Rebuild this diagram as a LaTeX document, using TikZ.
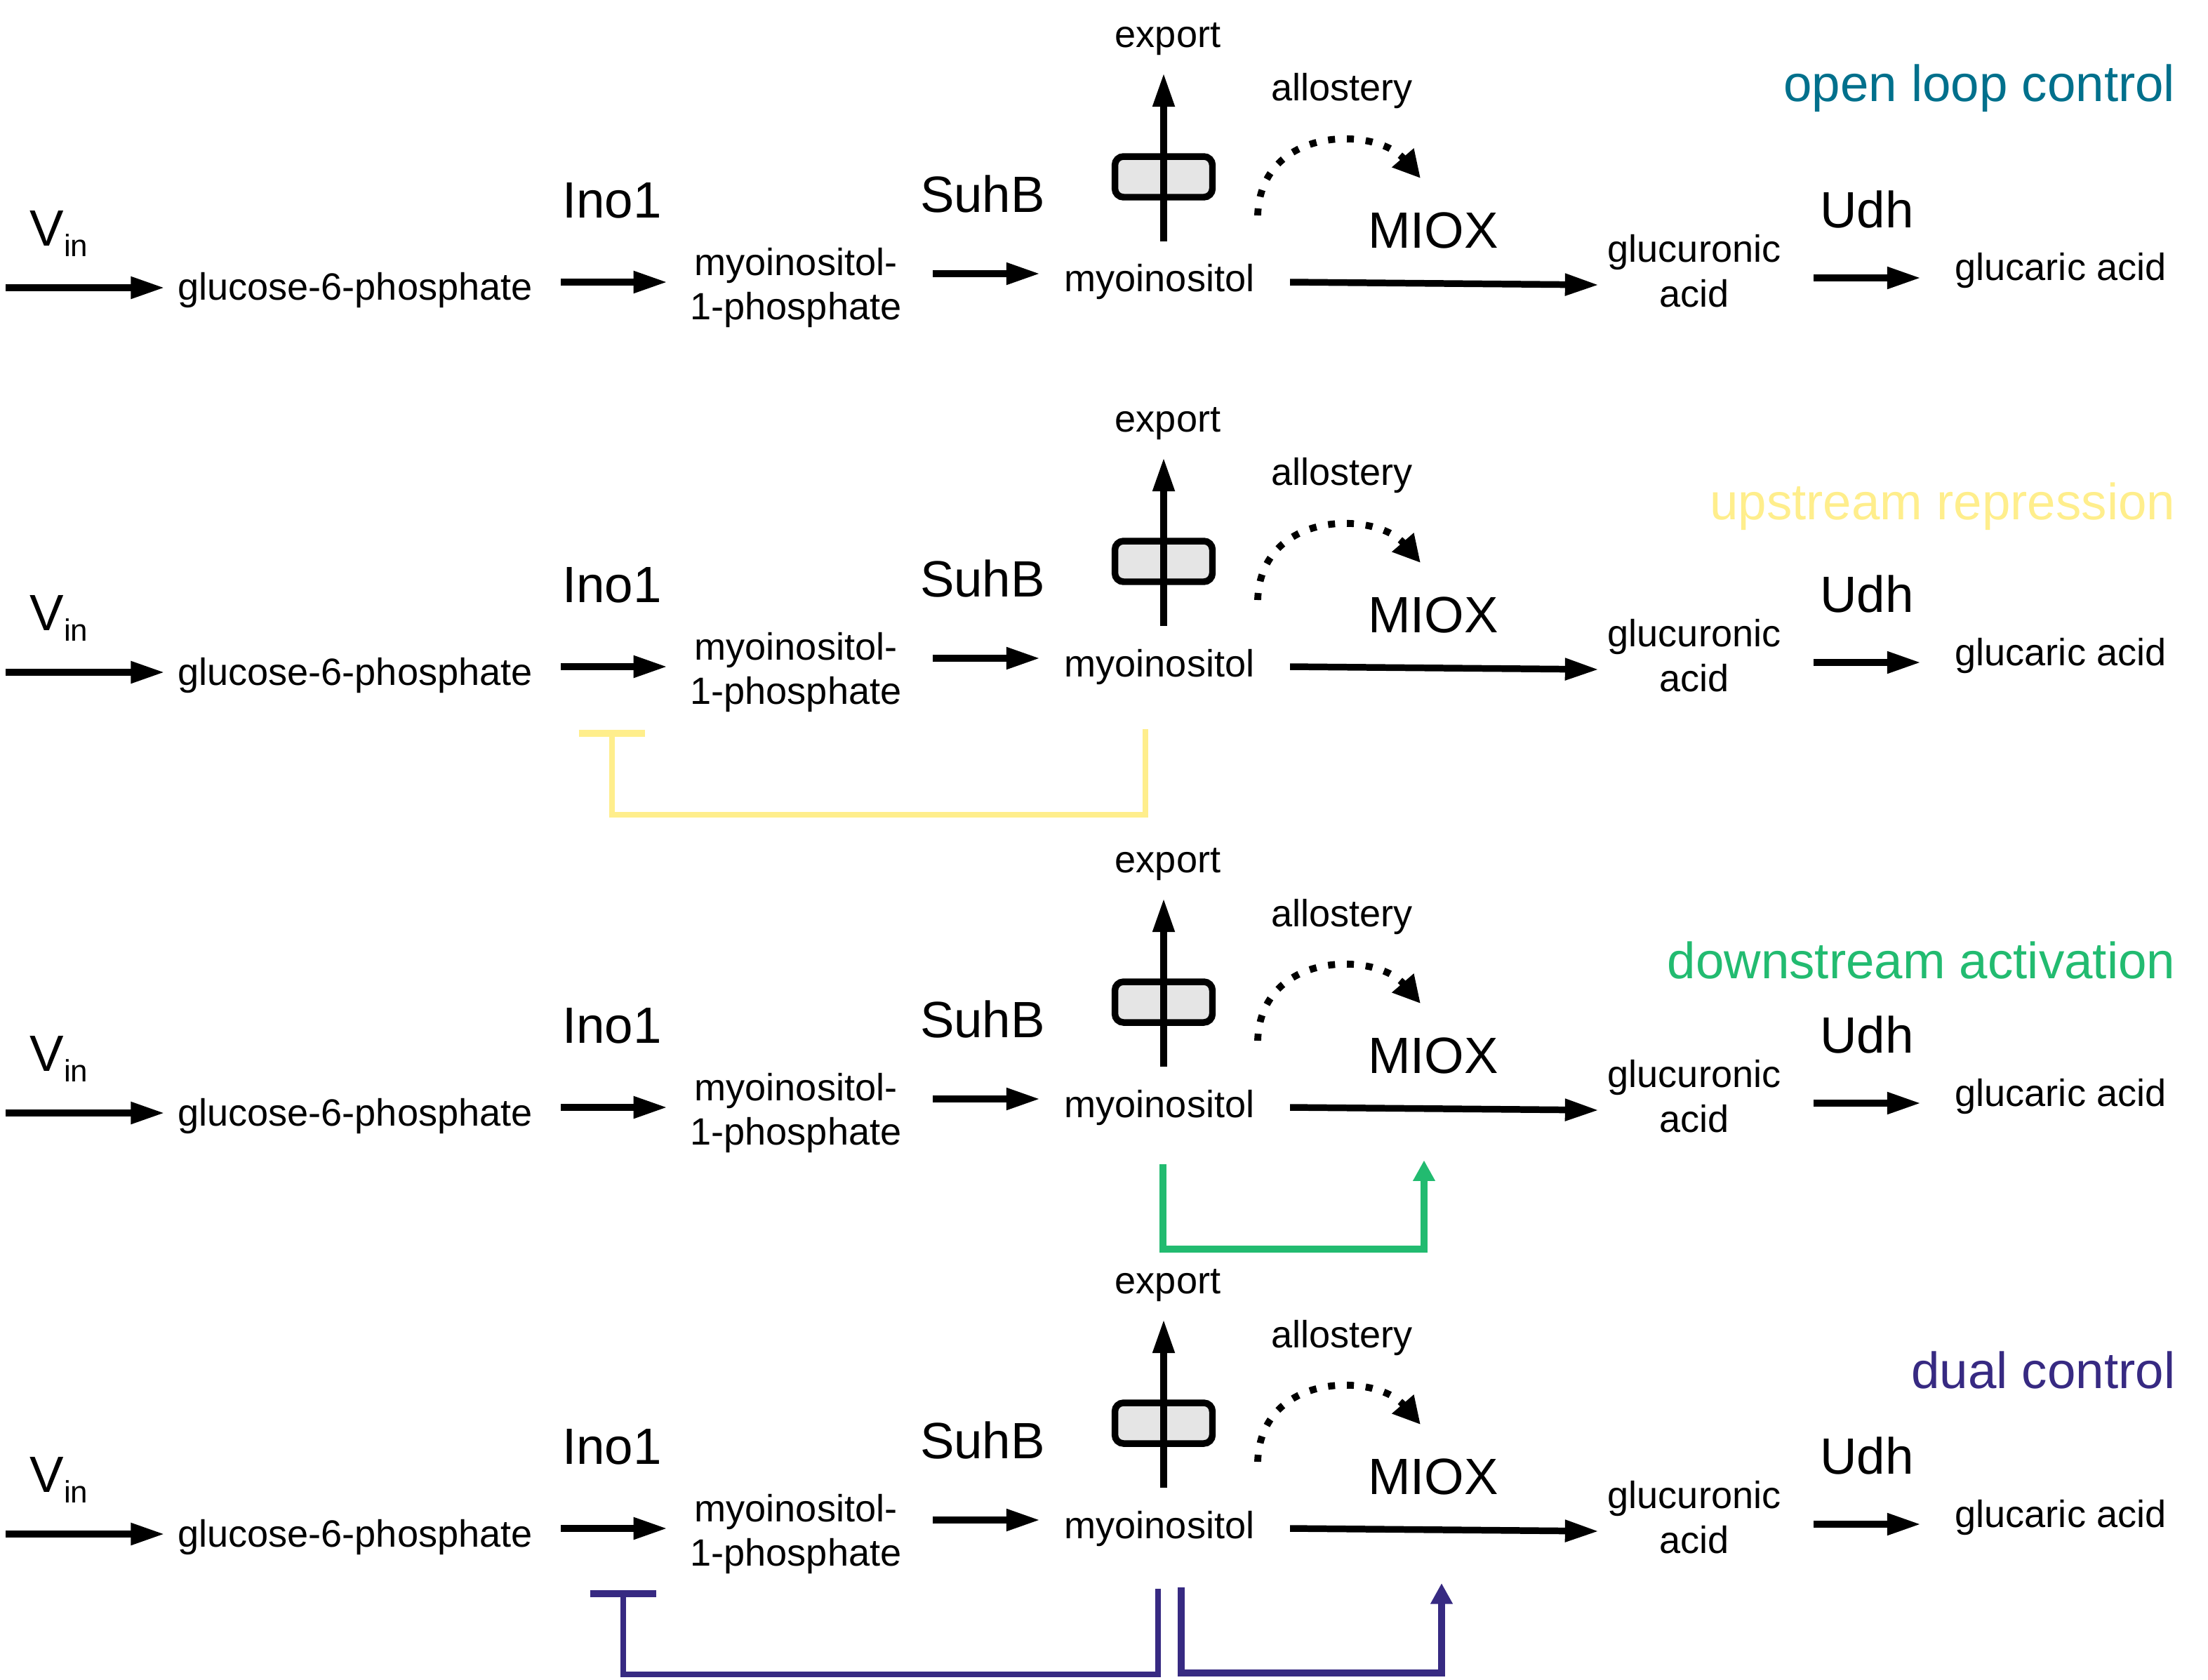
\documentclass[tikz,border=0pt]{standalone}
\usepackage{fontspec}
\setmainfont{Liberation Sans}
\usepackage{xcolor}
\usepackage{tikz}
\usetikzlibrary{arrows.meta,positioning}

\definecolor{openloop}{RGB}{0,112,140}
\definecolor{upstream}{RGB}{255,238,140}
\definecolor{downstream}{RGB}{34,187,112}
\definecolor{dualctl}{RGB}{55,42,130}

\tikzset{
  met/.style={inner sep=0pt, align=center, font=\fontsize{15.4}{18.2}\selectfont},
  enz/.style={inner sep=0pt, font=\fontsize{20.7}{24}\selectfont},
  title/.style={anchor=east, inner sep=0pt, font=\fontsize{20.7}{24}\selectfont},
  flux/.style={line width=2.7pt, -{Triangle[length=13.7pt,width=8.4pt]}},
  porter/.style={draw, line width=2.7pt, fill=gray!20, rounded corners=3.5pt,
    inner sep=0pt, minimum width=1.39cm, minimum height=0.58cm},
  allo/.style={line width=2.8pt, dash pattern=on 2.85pt off 4.8pt,
    -{Triangle[length=11pt,width=11pt]}},
  activ/.style={line width=2.65pt, -{Triangle[length=8.4pt,width=8.5pt]}},
  repress/.style={line width=2.5pt, -{Bar[width=27pt,line width=2.9pt]}}
}

\begin{document}
\begin{tikzpicture}[x=0.02cm, y=-0.02cm]
    \useasboundingbox (0,0) rectangle (1573,1197);

    % the same pathway in every row
    \foreach \r/\dy in {1/0,2/274,3/588,4/888}{
    \begin{scope}[shift={(0,\dy)}]
        \node[enz, anchor=base west] (vin\r) at (21,175) {V\raisebox{-4.4pt}{\fontsize{12.5}{14}\selectfont in}};
        \coordinate (src\r) at (4,205);
        \node[met] (g6p\r) at (253,207) {glucose-6-phosphate};
        \node[enz] (ino\r) at (436,143) {Ino1};
        \node[met] (mip\r) at (567,205) {myoinositol-\\1-phosphate};
        \node[enz] (suhb\r) at (700,138) {SuhB};
        \node[met] (myo\r) at (826,201) {myoinositol};
        \node[porter] (pump\r) at (829,126) {};
        \node[met] (exp\r) at (832,28) {export};
        \node[met] (allo\r) at (956,65) {allostery};
        \node[enz] (miox\r) at (1021,164) {MIOX};
        \node[met] (glcu\r) at (1207,193) {glucuronic\\acid};
        \node[enz] (udh\r) at (1330,149) {Udh};
        \node[met] (glca\r) at (1468,193) {glucaric acid};

        % reactions
        \draw[flux] (src\r) -- ([shift={(-9,-2)}]g6p\r.west);
        \draw[flux] ([shift={(20,-6)}]g6p\r.east) -- ([shift={(-16,-4)}]mip\r.west);
        \draw[flux] ([shift={(22,-10)}]mip\r.east) -- ([shift={(-17,-6)}]myo\r.west);
        \draw[flux] ([shift={(25,0)}]myo\r.east) -- ([shift={(-6,10)}]glcu\r.west);
        \draw[flux] ([shift={(23,5)}]glcu\r.east) -- ([shift={(-24,5)}]glca\r.west);
        \draw[flux] ([shift={(3,-29)}]myo\r.center) -- ([shift={(-3,24)}]exp\r.center);
        \draw[allo] ([shift={(70,-47.5)}]myo\r.center) .. controls +(2,-64) and +(-32,-37) .. ([shift={(-9,-37)}]miox\r.center);
    \end{scope}
    }

    % control labels
    \node[title, openloop] (t1) at (1550,63) {open loop control};
    \node[title, upstream] (t2) at (1550,361) {upstream repression};
    \node[title, downstream] (t3) at (1550,684) {downstream activation};
    \node[title, dualctl] (t4) at (1550,976) {dual control};

    % feedback
    \draw[repress, upstream] ([shift={(-10,44.5)}]myo2.center) -- ++(0,61) -| ([shift={(0,103)}]ino2.center);
    \draw[activ, downstream] ([shift={(2.5,40.5)}]myo3.center) -- ++(0,60.5) -| ([shift={(-6.5,74.7)}]miox3.center);
    \draw[repress, dualctl] ([shift={(-1,43)}]myo4.center) -- ++(0,61) -| ([shift={(8,102)}]ino4.center);
    \draw[activ, dualctl] ([shift={(15.5,42)}]myo4.center) -- ++(0,61) -| ([shift={(6,76)}]miox4.center);
\end{tikzpicture}
\end{document}
